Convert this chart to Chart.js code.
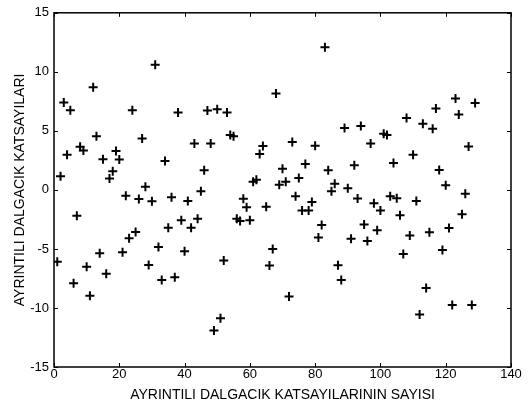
<!DOCTYPE html>
<html>
<head>
<meta charset="utf-8">
<script src="https://cdn.jsdelivr.net/npm/chart.js@4"></script>
<style>
  body { margin: 0; background: #fff; }
  canvas { display: block; }
</style>
</head>
<body>
<canvas id="myChart" width="529" height="409"></canvas>
<script>
// detail coefficient values, in order (coefficient 1, 2, 3 ...)
var coefValues = [
  -6.08, 1.16, 7.4, 2.97, 6.75, -7.9, -2.2, 3.66, 3.33, -6.5,
  -8.97, 8.7, 4.55, -5.36, 2.6, -7.1, 0.97, 1.58, 3.3, 2.58,
  -5.28, -0.5, -4.1, 6.75, -3.56, -0.78, 4.36, 0.27, -6.36, -0.97,
  10.6, -4.83, -7.64, 2.44, -3.2, -0.62, -7.4, 6.55, -2.56, -5.2,
  -0.95, -3.2, 3.94, -2.45, -0.11, 1.67, 6.72, 3.94, -11.9, 6.83,
  -10.87, -5.97, 6.55, 4.64, 4.55, -2.45, -2.64, -0.75, -1.48, -2.56,
  0.69, 0.86, 3.05, 3.72, -1.42, -6.4, -5.0, 8.17, 0.44, 1.8,
  0.69, -9.03, 4.05, -0.53, 1.0, -1.75, 2.19, -1.75, -1.03, 3.75,
  -4.03, -2.98, 12.08, 1.67, -0.11, 0.53, -6.39, -7.64, 5.25, 0.14,
  -4.14, 2.08, -0.72, 5.42, -2.92, -4.33, 3.94, -1.14, -3.42, -1.75,
  4.75, 4.64, -0.53, 2.28, -0.7, -2.14, -5.42, 6.1, -3.86, 2.97,
  -0.95, -10.56, 5.6, -8.3, -3.58, 5.17, 6.9, 1.69, -5.08, 0.39,
  -3.22, -9.75, 7.75, 6.39, -2.06, -0.32, 3.67, -9.75, 7.36
];

var xTicks = [0, 20, 40, 60, 80, 100, 120, 140];
var yTicks = [-15, -10, -5, 0, 5, 10, 15];

var xTitle = "AYRINTILI DALGACIK KATSAYILARININ SAYISI";
var yTitle = "AYRINTILI DALGACIK KATSAYILARI";

var points = [];
for (var i = 0; i < coefValues.length; i++) {
    points.push({ x: i + 1, y: coefValues[i] });
}

var fontName = "'Liberation Sans', Arial, Helvetica, sans-serif";

// matlab style box with ticks pointing inwards
var boxPlugin = {
    id: 'box',
    afterDraw: function(chart) {
        var ctx = chart.ctx;
        var a = chart.chartArea;
        var xs = chart.scales.x;
        var ys = chart.scales.y;
        var len = 4;
        ctx.save();
        ctx.strokeStyle = '#000';
        ctx.lineWidth = 1;
        ctx.beginPath();
        xTicks.forEach(function(v) {
            var px = Math.round(xs.getPixelForValue(v)) + 0.5;
            ctx.moveTo(px, a.bottom);
            ctx.lineTo(px, a.bottom - len);
            ctx.moveTo(px, a.top);
            ctx.lineTo(px, a.top + len);
        });
        yTicks.forEach(function(v) {
            var py = Math.round(ys.getPixelForValue(v)) + 0.5;
            ctx.moveTo(a.left, py);
            ctx.lineTo(a.left + len, py);
            ctx.moveTo(a.right, py);
            ctx.lineTo(a.right - len, py);
        });
        ctx.stroke();
        ctx.lineWidth = 1.5;
        ctx.strokeRect(a.left, a.top, a.right - a.left, a.bottom - a.top);
        ctx.restore();
    }
};

var ctx = document.getElementById('myChart').getContext('2d');

var myChart = new Chart(ctx, {
    type: 'scatter',
    data: {
        datasets: [{
            data: points,
            pointStyle: 'cross',
            pointRadius: 4.5,
            pointBorderWidth: 2,
            borderColor: '#000',
            backgroundColor: '#000'
        }]
    },
    options: {
        responsive: false,
        animation: false,
        layout: { padding: { top: 7, right: 18, left: 0, bottom: 0 } },
        plugins: {
            legend: { display: false },
            tooltip: { enabled: false }
        },
        scales: {
            x: {
                type: 'linear',
                min: 0,
                max: 140,
                afterFit: function(scale) { scale.height = 42; },
                afterBuildTicks: function(scale) {
                    scale.ticks = xTicks.map(function(v) { return { value: v }; });
                },
                grid: { display: false, drawTicks: false },
                border: { display: false },
                ticks: {
                    color: '#000',
                    padding: 0,
                    maxRotation: 0,
                    font: { family: fontName, size: 13 }
                },
                title: {
                    display: true,
                    text: xTitle,
                    color: '#000',
                    padding: { top: 0, bottom: 5 },
                    font: { family: fontName, size: 14 }
                }
            },
            y: {
                type: 'linear',
                min: -15,
                max: 15,
                afterFit: function(scale) { scale.width = 54; },
                afterBuildTicks: function(scale) {
                    scale.ticks = yTicks.map(function(v) { return { value: v }; });
                },
                grid: { display: false, drawTicks: false },
                border: { display: false },
                ticks: {
                    color: '#000',
                    padding: 5,
                    font: { family: fontName, size: 13 }
                },
                title: {
                    display: true,
                    text: yTitle,
                    color: '#000',
                    padding: { top: 12, bottom: 0 },
                    font: { family: fontName, size: 14 }
                }
            }
        }
    },
    plugins: [boxPlugin]
});
</script>
</body>
</html>
